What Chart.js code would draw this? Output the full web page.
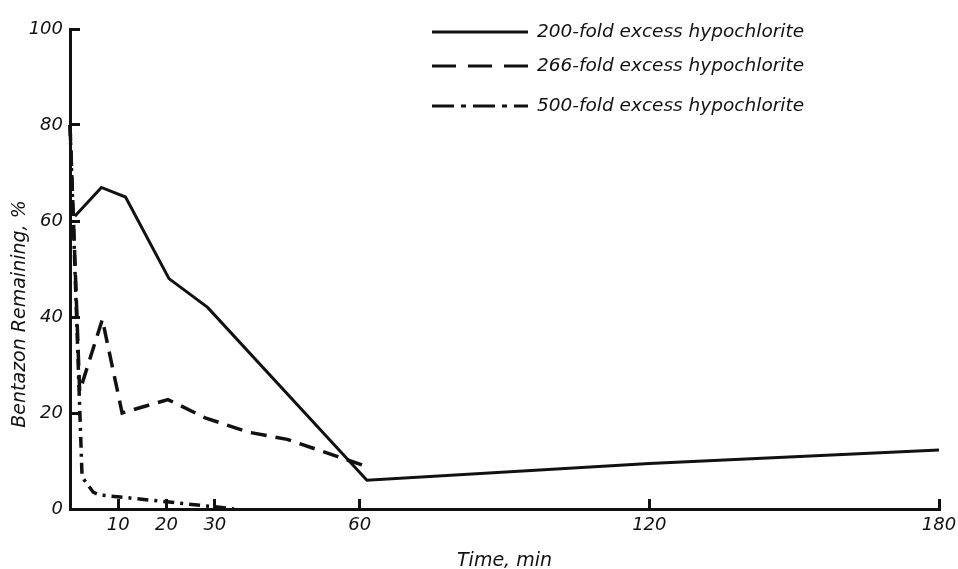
<!DOCTYPE html>
<html>
<head>
<meta charset="utf-8">
<script src="https://cdn.jsdelivr.net/npm/chart.js@4"></script>
<style>
  html, body { margin: 0; padding: 0; background: #fff; }
</style>
</head>
<body>
<canvas id="chart" width="958" height="569"></canvas>
<script>
// values
const seriesLabels = ['200-fold excess hypochlorite', '266-fold excess hypochlorite', '500-fold excess hypochlorite'];

const time200 = [1, 6.5, 11.5, 20.5, 28.5, 61.5, 120, 180];
const left200 = [61, 67, 65, 48, 42, 6, 9.5, 12.3];

const time266 = [0, 2, 6.7, 10.8, 20.3, 28, 37, 45, 61];
const left266 = [80, 24.5, 39.5, 20, 22.8, 19, 16, 14.5, 9];

const time500 = [0, 2.5, 4.8, 6.2, 10.4, 20, 30.5, 34];
const left500 = [80, 6.7, 3.5, 2.9, 2.5, 1.5, 0.4, 0];

const xTicks = [10, 20, 30, 60, 120, 180];
const yTicks = [0, 20, 40, 60, 80, 100];

const xTitle = 'Time, min';
const yTitle = 'Bentazon Remaining, %';

const ink = '#111';
const family = '"DejaVu Sans", sans-serif';

function points(xs, ys) {
  return xs.map((x, i) => ({ x: x, y: ys[i] }));
}

// legend rows and rotated y title, drawn by hand to match the print layout
const legendRows = [32, 66, 106];
const legendDash = [[], [24, 12], [22, 7, 5, 7]];

const annotate = {
  id: 'annotate',
  afterDraw(chart) {
    const ctx = chart.ctx;
    ctx.save();
    ctx.strokeStyle = ink;
    ctx.fillStyle = ink;
    chart.data.datasets.forEach((ds, i) => {
      const y = legendRows[i];
      ctx.lineWidth = 3;
      ctx.setLineDash(legendDash[i]);
      ctx.beginPath();
      ctx.moveTo(432, y);
      ctx.lineTo(528, y);
      ctx.stroke();
      ctx.setLineDash([]);
      ctx.font = 'italic 18.5px ' + family;
      ctx.textAlign = 'left';
      ctx.textBaseline = 'middle';
      ctx.fillText(ds.label, 537, y);
    });
    ctx.translate(20, 314);
    ctx.rotate(-Math.PI / 2);
    ctx.font = 'italic 19px ' + family;
    ctx.textAlign = 'center';
    ctx.textBaseline = 'middle';
    ctx.fillText(yTitle, 0, 0);
    ctx.restore();
  }
};

new Chart(document.getElementById('chart'), {
  type: 'line',
  data: {
    datasets: [{
      label: seriesLabels[0],
      data: points(time200, left200),
      borderColor: ink,
      borderWidth: 3,
    },
    {
      label: seriesLabels[1],
      data: points(time266, left266),
      borderColor: ink,
      borderWidth: 3.5,
      borderDash: [16, 9],
    },
    {
      label: seriesLabels[2],
      data: points(time500, left500),
      borderColor: ink,
      borderWidth: 3.5,
      borderDash: [11, 6, 3, 6],
    }]
  },
  options: {
    responsive: false,
    animation: false,
    clip: 5,
    elements: {
      line: { tension: 0, fill: false },
      point: { radius: 0 }
    },
    layout: {
      padding: { left: 0, right: 19, top: 29, bottom: 0 }
    },
    plugins: {
      legend: { display: false },
      tooltip: { enabled: false }
    },
    scales: {
      x: {
        type: 'linear',
        min: 0,
        max: 180,
        afterBuildTicks: s => { s.ticks = xTicks.map(v => ({ value: v })); },
        afterFit: s => { s.height = 60; s.paddingLeft = 0; s.paddingRight = 0; },
        grid: { drawOnChartArea: false, tickLength: -10, color: ink, lineWidth: 3 },
        border: { color: ink, width: 3 },
        ticks: {
          color: ink,
          padding: 16,
          autoSkip: false,
          maxRotation: 0,
          font: { family: family, size: 18, style: 'italic' }
        },
        title: {
          display: true,
          text: xTitle,
          color: ink,
          padding: { top: 0, bottom: -3 },
          font: { family: family, size: 19, style: 'italic' }
        }
      },
      y: {
        min: 0,
        max: 100,
        afterBuildTicks: s => { s.ticks = yTicks.map(v => ({ value: v })); },
        afterFit: s => { s.width = 70; s.paddingTop = 0; s.paddingBottom = 0; },
        grid: { drawOnChartArea: false, tickLength: -10, color: ink, lineWidth: 3 },
        border: { color: ink, width: 3 },
        ticks: {
          color: ink,
          padding: 17,
          font: { family: family, size: 18, style: 'italic' }
        }
      }
    }
  },
  plugins: [annotate]
});
</script>
</body>
</html>
